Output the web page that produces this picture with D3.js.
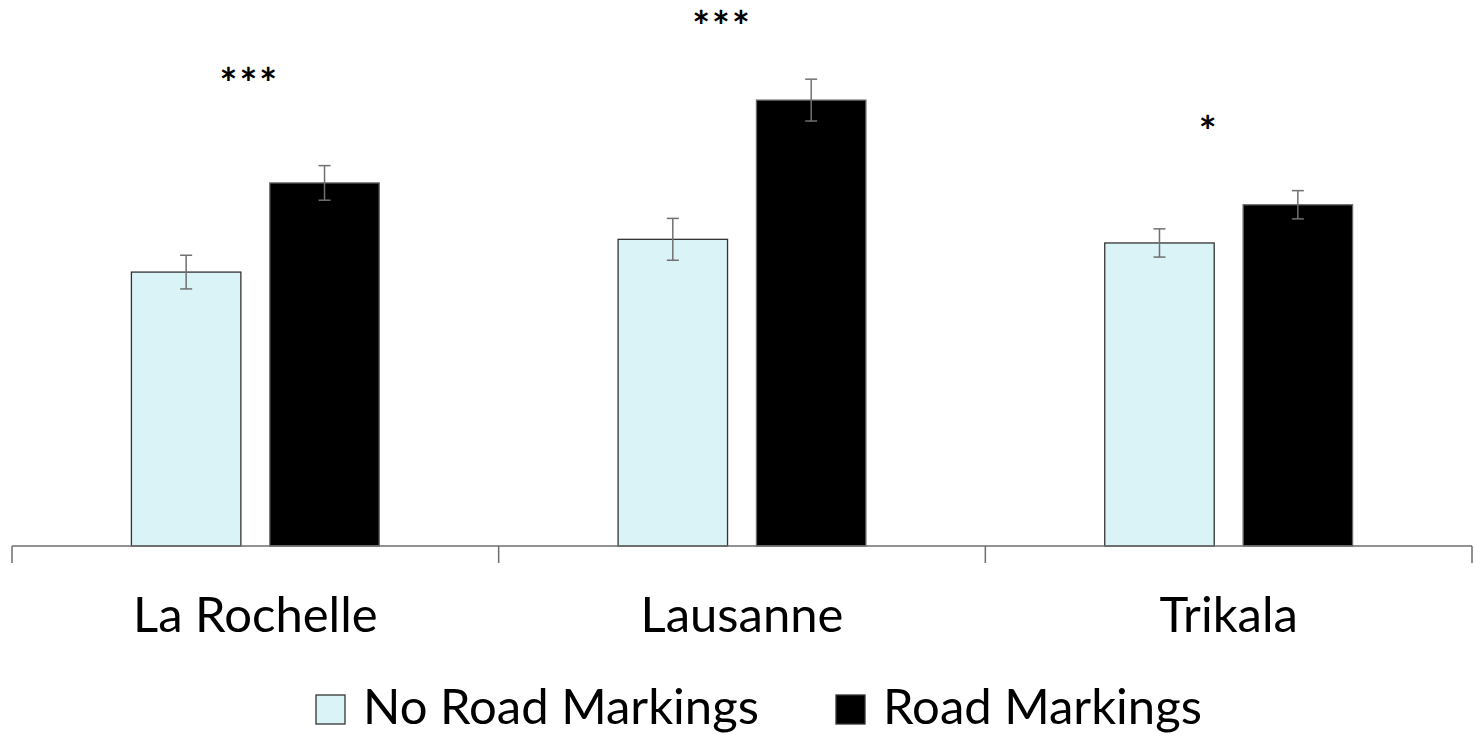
<!DOCTYPE html>
<html>
<head>
<meta charset="utf-8">
<script src="https://cdn.jsdelivr.net/npm/d3@7"></script>
<style>
  body { margin: 0; background: #fff; }
  svg { display: block; font-family: Lato, "Open Sans", sans-serif; }
</style>
</head>
<body>
<div id="chart"></div>
<script>
// Data (arbitrary units - the chart has no y axis)
const cities = ["La Rochelle", "Lausanne", "Trikala"];
const seriesNames = ["No Road Markings", "Road Markings"];
const noMarkings = [30.1, 33.7, 33.3];
const noMarkingsErr = [1.85, 2.3, 1.55];
const withMarkings = [39.9, 49.0, 37.5];
const withMarkingsErr = [1.9, 2.3, 1.55];
const sigLabels = ["***", "***", "*"];
// level (in value units) of the middle of each star label
const sigLevel = [51.8, 58.0, 46.5];
const sigShift = [-6, -20, -20];

const width = 1474, height = 735;
const baseY = 546;

const svg = d3.select("#chart")
    .append("svg")
    .attr("width", width)
    .attr("height", height);

// Scales
const x = d3.scaleBand()
    .domain(cities)
    .range([12, 1472])
    .paddingInner(0)
    .paddingOuter(0);

const xInner = d3.scaleBand()
    .domain(seriesNames)
    .range([0, x.bandwidth()])
    .paddingInner(0.209)
    .paddingOuter(0.863);

const y = d3.scaleLinear()
    .domain([0, 60])
    .range([baseY, 0]);

const colors = {"No Road Markings": "#daf3f7", "Road Markings": "#000000"};

// Build rows for drawing
const rows = [];
cities.forEach((c, i) => {
    rows.push({city: c, series: seriesNames[0], value: noMarkings[i], err: noMarkingsErr[i]});
    rows.push({city: c, series: seriesNames[1], value: withMarkings[i], err: withMarkingsErr[i]});
});

// Bars
svg.append("g")
    .selectAll("rect")
    .data(rows)
    .join("rect")
    .attr("x", d => x(d.city) + xInner(d.series))
    .attr("y", d => y(d.value))
    .attr("width", xInner.bandwidth())
    .attr("height", d => y(0) - y(d.value))
    .attr("fill", d => colors[d.series])
    .attr("stroke", d => d.series === seriesNames[0] ? "#333" : "#6a6a6a")
    .attr("stroke-width", 1.3);

// Error bars
const errG = svg.append("g")
    .attr("stroke", "#707070")
    .attr("stroke-width", 1.5);

const cx = d => x(d.city) + xInner(d.series) + xInner.bandwidth() / 2;

errG.selectAll(".err-v")
    .data(rows)
    .join("line")
    .attr("class", "err-v")
    .attr("x1", cx).attr("x2", cx)
    .attr("y1", d => y(d.value + d.err))
    .attr("y2", d => y(d.value - d.err));

errG.selectAll(".err-top")
    .data(rows)
    .join("line")
    .attr("class", "err-top")
    .attr("x1", d => cx(d) - 6).attr("x2", d => cx(d) + 6)
    .attr("y1", d => y(d.value + d.err))
    .attr("y2", d => y(d.value + d.err));

errG.selectAll(".err-bot")
    .data(rows)
    .join("line")
    .attr("class", "err-bot")
    .attr("x1", d => cx(d) - 6).attr("x2", d => cx(d) + 6)
    .attr("y1", d => y(d.value - d.err))
    .attr("y2", d => y(d.value - d.err));

// X axis: baseline plus category boundary ticks
const axisG = svg.append("g")
    .attr("stroke", "#6e6e6e")
    .attr("stroke-width", 1.5);

axisG.append("line")
    .attr("x1", x.range()[0])
    .attr("x2", x.range()[1])
    .attr("y1", baseY)
    .attr("y2", baseY);

const boundaries = cities.map(c => x(c)).concat([x.range()[1]]);
axisG.selectAll(".tick")
    .data(boundaries)
    .join("line")
    .attr("class", "tick")
    .attr("x1", d => d).attr("x2", d => d)
    .attr("y1", baseY)
    .attr("y2", baseY + 17);

// Category labels
svg.append("g")
    .selectAll("text")
    .data(cities)
    .join("text")
    .attr("x", d => x(d) + x.bandwidth() / 2)
    .attr("y", 632)
    .attr("text-anchor", "middle")
    .style("font-size", "49px")
    .attr("fill", "#000")
    .text(d => d);

// Significance stars (Lato's asterisk sits ~0.57em above the baseline)
const starSize = 42;
svg.append("g")
    .selectAll("text")
    .data(cities)
    .join("text")
    .attr("x", (d, i) => x(d) + x.bandwidth() / 2 + sigShift[i])
    .attr("y", (d, i) => y(sigLevel[i]) + starSize * 0.57)
    .attr("text-anchor", "middle")
    .style("font-size", starSize + "px")
    .style("font-weight", "bold")
    .style("letter-spacing", "2px")
    .attr("fill", "#000")
    .text((d, i) => sigLabels[i]);

// Legend
const legend = svg.append("g");
const legendX = [316, 836];
seriesNames.forEach((s, i) => {
    legend.append("rect")
        .attr("x", legendX[i])
        .attr("y", 695)
        .attr("width", 29)
        .attr("height", 29)
        .attr("fill", colors[s])
        .attr("stroke", "#333")
        .attr("stroke-width", 1.3);
    legend.append("text")
        .attr("x", legendX[i] + 47)
        .attr("y", 724)
        .style("font-size", "49px")
        .attr("fill", "#000")
        .text(s);
});
</script>
</body>
</html>
